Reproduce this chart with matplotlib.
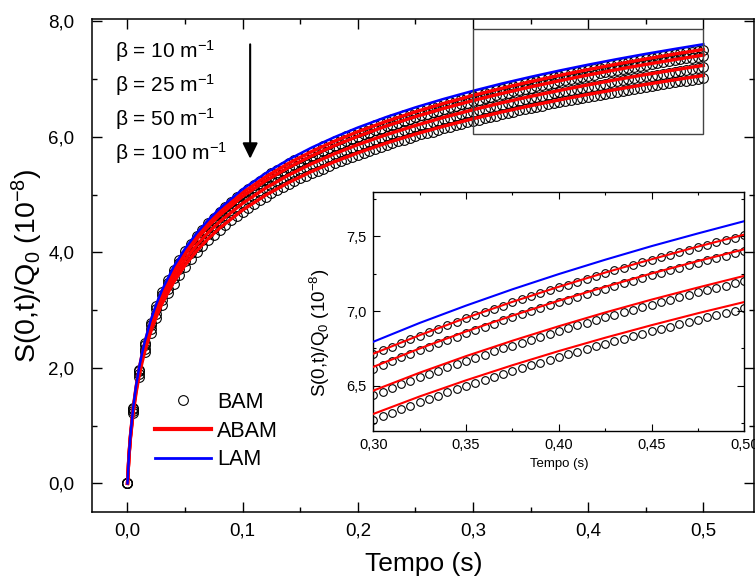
import matplotlib
matplotlib.use('Agg')
import matplotlib.pyplot as plt
from matplotlib.ticker import MultipleLocator, FuncFormatter
from matplotlib.lines import Line2D
from matplotlib.patches import Rectangle

plt.rcParams['font.family'] = ['Liberation Sans', 'DejaVu Sans']
plt.rcParams['mathtext.default'] = 'regular'

# BAM points (circles), sampled every 0.005 s
t_bam = [0.000, 0.005, 0.010, 0.015, 0.020, 0.025, 0.030, 0.035, 0.040, 0.045,
         0.050, 0.055, 0.060, 0.065, 0.070, 0.075, 0.080, 0.085, 0.090, 0.095,
         0.100, 0.105, 0.110, 0.115, 0.120, 0.125, 0.130, 0.135, 0.140, 0.145,
         0.150, 0.155, 0.160, 0.165, 0.170, 0.175, 0.180, 0.185, 0.190, 0.195,
         0.200, 0.205, 0.210, 0.215, 0.220, 0.225, 0.230, 0.235, 0.240, 0.245,
         0.250, 0.255, 0.260, 0.265, 0.270, 0.275, 0.280, 0.285, 0.290, 0.295,
         0.300, 0.305, 0.310, 0.315, 0.320, 0.325, 0.330, 0.335, 0.340, 0.345,
         0.350, 0.355, 0.360, 0.365, 0.370, 0.375, 0.380, 0.385, 0.390, 0.395,
         0.400, 0.405, 0.410, 0.415, 0.420, 0.425, 0.430, 0.435, 0.440, 0.445,
         0.450, 0.455, 0.460, 0.465, 0.470, 0.475, 0.480, 0.485, 0.490, 0.495,
         0.500]

bam_10 = [0, 1.31, 1.97, 2.43, 2.78, 3.07, 3.31, 3.52, 3.70, 3.87,
          4.02, 4.15, 4.28, 4.39, 4.50, 4.60, 4.70, 4.79, 4.87, 4.95,
          5.03, 5.10, 5.17, 5.24, 5.31, 5.37, 5.43, 5.48, 5.54, 5.59,
          5.64, 5.69, 5.74, 5.79, 5.84, 5.88, 5.92, 5.96, 6.01, 6.05,
          6.08, 6.12, 6.16, 6.20, 6.23, 6.27, 6.30, 6.33, 6.37, 6.40,
          6.43, 6.46, 6.49, 6.52, 6.55, 6.58, 6.60, 6.63, 6.66, 6.69,
          6.711, 6.737, 6.762, 6.787, 6.811, 6.835, 6.859, 6.883, 6.906, 6.928,
          6.951, 6.973, 6.995, 7.016, 7.037, 7.058, 7.079, 7.099, 7.120, 7.139,
          7.159, 7.178, 7.198, 7.217, 7.235, 7.254, 7.272, 7.290, 7.308, 7.326,
          7.343, 7.360, 7.377, 7.394, 7.411, 7.428, 7.444, 7.460, 7.476, 7.492,
          7.508]

bam_25 = [0, 1.29, 1.94, 2.39, 2.74, 3.02, 3.26, 3.47, 3.65, 3.81,
          3.96, 4.09, 4.22, 4.33, 4.44, 4.54, 4.63, 4.72, 4.80, 4.88,
          4.96, 5.03, 5.10, 5.17, 5.23, 5.29, 5.35, 5.41, 5.46, 5.51,
          5.56, 5.61, 5.66, 5.71, 5.75, 5.80, 5.84, 5.88, 5.92, 5.96,
          6.00, 6.04, 6.07, 6.11, 6.14, 6.18, 6.21, 6.24, 6.28, 6.31,
          6.34, 6.37, 6.40, 6.43, 6.45, 6.48, 6.51, 6.54, 6.56, 6.59,
          6.616, 6.641, 6.666, 6.691, 6.715, 6.739, 6.762, 6.785, 6.808, 6.830,
          6.852, 6.874, 6.896, 6.917, 6.938, 6.958, 6.979, 6.999, 7.019, 7.038,
          7.058, 7.077, 7.096, 7.114, 7.133, 7.151, 7.169, 7.187, 7.204, 7.222,
          7.239, 7.256, 7.273, 7.290, 7.306, 7.322, 7.339, 7.355, 7.370, 7.386,
          7.402]

bam_50 = [0, 1.26, 1.89, 2.33, 2.67, 2.94, 3.17, 3.37, 3.55, 3.71,
          3.85, 3.98, 4.10, 4.22, 4.32, 4.42, 4.51, 4.59, 4.68, 4.75,
          4.83, 4.90, 4.96, 5.03, 5.09, 5.15, 5.21, 5.26, 5.31, 5.36,
          5.41, 5.46, 5.51, 5.55, 5.60, 5.64, 5.68, 5.72, 5.76, 5.80,
          5.84, 5.87, 5.91, 5.94, 5.98, 6.01, 6.04, 6.07, 6.11, 6.14,
          6.17, 6.20, 6.22, 6.25, 6.28, 6.31, 6.33, 6.36, 6.39, 6.41,
          6.437, 6.462, 6.486, 6.510, 6.534, 6.557, 6.579, 6.602, 6.624, 6.646,
          6.667, 6.688, 6.709, 6.730, 6.750, 6.770, 6.790, 6.810, 6.829, 6.848,
          6.867, 6.886, 6.904, 6.922, 6.940, 6.958, 6.975, 6.993, 7.010, 7.027,
          7.044, 7.060, 7.077, 7.093, 7.109, 7.125, 7.140, 7.156, 7.171, 7.187,
          7.202]

bam_100 = [0, 1.22, 1.84, 2.27, 2.60, 2.87, 3.09, 3.29, 3.46, 3.61,
           3.75, 3.88, 4.00, 4.11, 4.21, 4.30, 4.39, 4.48, 4.56, 4.63,
           4.70, 4.77, 4.84, 4.90, 4.96, 5.02, 5.07, 5.13, 5.18, 5.23,
           5.28, 5.32, 5.37, 5.41, 5.45, 5.50, 5.54, 5.58, 5.61, 5.65,
           5.69, 5.72, 5.76, 5.79, 5.83, 5.86, 5.89, 5.92, 5.95, 5.98,
           6.01, 6.04, 6.07, 6.09, 6.12, 6.15, 6.17, 6.20, 6.22, 6.25,
           6.274, 6.298, 6.321, 6.345, 6.368, 6.390, 6.412, 6.434, 6.456, 6.477,
           6.498, 6.519, 6.539, 6.559, 6.579, 6.598, 6.618, 6.637, 6.656, 6.674,
           6.693, 6.711, 6.729, 6.746, 6.764, 6.781, 6.798, 6.815, 6.832, 6.848,
           6.865, 6.881, 6.897, 6.913, 6.928, 6.944, 6.959, 6.974, 6.989, 7.004,
           7.019]

# ABAM and LAM curves
t_fit = [0, 0.00125, 0.0025, 0.005, 0.0075, 0.01, 0.0125, 0.015, 0.02, 0.025,
         0.03, 0.04, 0.05, 0.06, 0.07, 0.08, 0.10, 0.12, 0.14, 0.16,
         0.18, 0.20, 0.225, 0.25, 0.275, 0.30, 0.325, 0.35, 0.375, 0.40,
         0.425, 0.45, 0.475, 0.50]

lam = [0, 0.490, 0.828, 1.325, 1.696, 1.994, 2.243, 2.457, 2.814, 3.104,
       3.349, 3.748, 4.066, 4.332, 4.559, 4.758, 5.094, 5.371, 5.608, 5.814,
       5.996, 6.160, 6.344, 6.509, 6.658, 6.795, 6.921, 7.037, 7.146, 7.248,
       7.344, 7.435, 7.520, 7.602]
abam_10 = [0, 0.485, 0.818, 1.310, 1.676, 1.970, 2.217, 2.428, 2.781, 3.067,
           3.310, 3.704, 4.019, 4.281, 4.505, 4.702, 5.034, 5.308, 5.542, 5.746,
           5.926, 6.088, 6.269, 6.432, 6.580, 6.715, 6.839, 6.955, 7.062, 7.163,
           7.258, 7.347, 7.432, 7.512]
abam_25 = [0, 0.478, 0.807, 1.293, 1.654, 1.945, 2.188, 2.397, 2.744, 3.028,
           3.266, 3.656, 3.966, 4.225, 4.447, 4.641, 4.968, 5.239, 5.470, 5.671,
           5.849, 6.008, 6.188, 6.348, 6.494, 6.627, 6.750, 6.864, 6.970, 7.070,
           7.163, 7.252, 7.335, 7.414]
abam_50 = [0, 0.467, 0.788, 1.262, 1.615, 1.898, 2.135, 2.339, 2.678, 2.955,
           3.188, 3.568, 3.871, 4.123, 4.340, 4.529, 4.849, 5.113, 5.338, 5.534,
           5.708, 5.864, 6.038, 6.195, 6.338, 6.468, 6.588, 6.699, 6.802, 6.899,
           6.991, 7.077, 7.158, 7.236]
abam_100 = [0, 0.456, 0.769, 1.231, 1.576, 1.852, 2.083, 2.283, 2.614, 2.883,
            3.111, 3.482, 3.777, 4.024, 4.235, 4.420, 4.732, 4.990, 5.209, 5.401,
            5.570, 5.722, 5.893, 6.046, 6.185, 6.312, 6.429, 6.537, 6.638, 6.733,
            6.822, 6.906, 6.986, 7.061]

beta_labels = ['10', '25', '50', '100']

bams = [bam_10, bam_25, bam_50, bam_100]
abams = [abam_10, abam_25, abam_50, abam_100]


def comma(nd):
    return FuncFormatter(lambda v, pos: f'{v:.{nd}f}'.replace('.', ','))


fig = plt.figure(figsize=(7.55, 5.82), dpi=100)
ax = fig.add_axes([0.1225, 0.1208, 0.8762, 0.8457])

for b in bams:
    ax.plot(t_bam, b, 'o', mfc='none', mec='black', ms=7, mew=0.8, zorder=2)
for a in abams:
    ax.plot(t_fit, a, color='red', lw=2.4, zorder=3)
ax.plot(t_fit, lam, color='blue', lw=1.8, zorder=4)

ax.set_xlim(-0.0304, 0.544)
ax.set_ylim(-0.49, 8.03)
ax.xaxis.set_major_locator(MultipleLocator(0.1))
ax.xaxis.set_minor_locator(MultipleLocator(0.05))
ax.yaxis.set_major_locator(MultipleLocator(2.0))
ax.yaxis.set_minor_locator(MultipleLocator(1.0))
ax.xaxis.set_major_formatter(comma(1))
ax.yaxis.set_major_formatter(comma(1))
ax.tick_params(which='both', direction='in', top=True, right=True, width=1.0)
ax.tick_params(which='major', length=7, labelsize=13.5)
ax.tick_params(axis='x', which='major', pad=8)
ax.tick_params(axis='y', which='major', pad=13)
ax.tick_params(which='minor', length=3.5)
for s in ax.spines.values():
    s.set_linewidth(1.1)

ax.set_xlabel('Tempo (s)', fontsize=19)
ax.xaxis.set_label_coords(0.5, -0.082)
ax.set_ylabel('S(0,t)/Q$_0$ (10$^{-8}$)', fontsize=20.5)
ax.yaxis.set_label_coords(-0.072, 0.5)

# zoom box
ax.add_patch(Rectangle((0.30, 6.05), 0.20, 1.81, fill=False, ec='#444444', lw=1.0, zorder=5))

# beta labels and arrow
for i, lbl in enumerate(beta_labels):
    ax.text(-0.0105, 7.48 - i * 0.585, 'β = ' + lbl + ' m$^{-1}$', fontsize=15,
            ha='left', va='center')
ax.annotate('', xy=(0.1065, 5.62), xytext=(0.1065, 7.60),
            arrowprops=dict(arrowstyle='-|>,head_length=0.47,head_width=0.23',
                            color='black', lw=1.5, mutation_scale=20,
                            shrinkA=0, shrinkB=0))

handles = [Line2D([], [], marker='o', ls='none', mfc='none', mec='black', ms=7, mew=0.8),
           Line2D([], [], color='red', lw=3),
           Line2D([], [], color='blue', lw=2)]
fig.legend(handles, ['BAM', 'ABAM', 'LAM'], loc='upper left',
           bbox_to_anchor=(0.1905, 0.345), bbox_transform=fig.transFigure,
           frameon=False, borderpad=0, handlelength=2.6, handletextpad=0.3,
           labelspacing=0.36, fontsize=15.5)

# inset
ax_in = fig.add_axes([0.4944, 0.2600, 0.4914, 0.4108])
for b in bams:
    ax_in.plot(t_bam, b, 'o', mfc='none', mec='black', ms=5.5, mew=0.8, zorder=2)
for a in abams:
    ax_in.plot(t_fit, a, color='red', lw=1.5, zorder=3)
ax_in.plot(t_fit, lam, color='blue', lw=1.5, zorder=4)
ax_in.set_xlim(0.30, 0.50)
ax_in.set_ylim(6.2, 7.8)
ax_in.xaxis.set_major_locator(MultipleLocator(0.05))
ax_in.xaxis.set_minor_locator(MultipleLocator(0.025))
ax_in.yaxis.set_major_locator(MultipleLocator(0.5))
ax_in.yaxis.set_minor_locator(MultipleLocator(0.25))
ax_in.xaxis.set_major_formatter(comma(2))
ax_in.yaxis.set_major_formatter(comma(1))
ax_in.tick_params(which='both', direction='in', top=True, right=True, width=0.8)
ax_in.tick_params(which='major', length=5, labelsize=10.5, pad=5)
ax_in.tick_params(which='minor', length=2.5)
for s in ax_in.spines.values():
    s.set_linewidth(1.0)
ax_in.set_xlabel('Tempo (s)', fontsize=9.5)
ax_in.xaxis.set_label_coords(0.5, -0.115)
ax_in.set_ylabel('S(0,t)/Q$_0$ (10$^{-8}$)', fontsize=13.5)
ax_in.yaxis.set_label_coords(-0.112, 0.41)

fig.savefig('out.png', dpi=100)
